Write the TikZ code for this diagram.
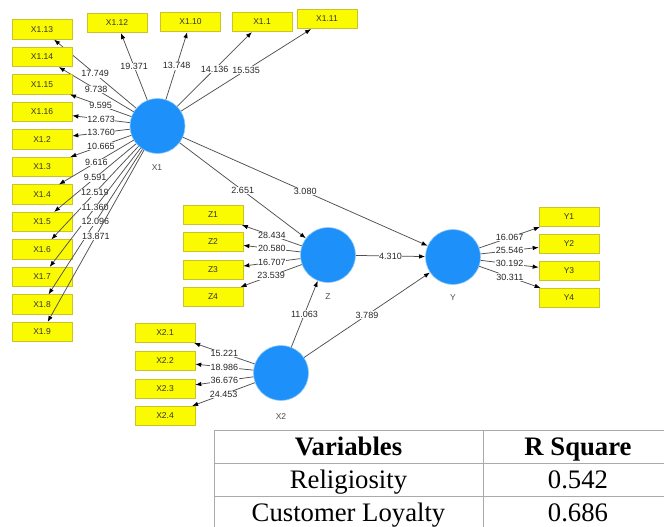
\documentclass[tikz,border=0pt]{standalone}
\usepackage{fontspec}
\setmainfont{Liberation Serif}
\newfontfamily\plssans{Liberation Sans}
\usetikzlibrary{arrows.meta}
\definecolor{lvblue}{RGB}{30,144,250}
\definecolor{lvedge}{RGB}{140,200,245}
\definecolor{indfill}{RGB}{250,250,0}
\definecolor{indedge}{RGB}{205,195,40}
\definecolor{connc}{RGB}{80,80,80}
\definecolor{tabline}{RGB}{170,170,170}
\begin{document}
\begin{tikzpicture}[x=1pt,y=-1pt,
 latent/.style={circle,fill=lvblue,draw=lvedge,line width=0.6pt,minimum size=55pt,inner sep=0pt},
 ind/.style={rectangle,fill=indfill,draw=indedge,line width=0.6pt,minimum width=60pt,minimum height=19.5pt,inner sep=0pt,font=\plssans\fontsize{8.5}{9}\selectfont,text=black!80},
 lvname/.style={font=\plssans\fontsize{8.5}{9}\selectfont,text=black!70},
 conn/.style={draw=connc,line width=0.75pt,-{Latex[length=6pt,width=4.5pt,color=black]}},
 lab/.style={fill=white,inner sep=0.6pt,font=\plssans\fontsize{9}{10}\selectfont,text=black!85},
 tabtxt/.style={font=\fontsize{26.7}{30}\selectfont,inner sep=0pt,anchor=base},
 tabhead/.style={font=\fontsize{26.7}{30}\selectfont\bfseries,inner sep=0pt,anchor=base},
]
\useasboundingbox (0,0) rectangle (664,527);
% latent variables
\node[latent] (X1) at (157.5,126) {};
\node[lvname] (X1n) at (157,168) {X1};
\node[latent] (Z) at (328,255) {};
\node[lvname] (Zn) at (328,297) {Z};
\node[latent] (Y) at (453,257) {};
\node[lvname] (Yn) at (453,298) {Y};
\node[latent] (X2) at (281,373) {};
\node[lvname] (X2n) at (281,417) {X2};
% X1 indicators, left column
\foreach \nm/\yy/\t/\v in {
 xa/29.5/X1.13/17.749, xb/57/X1.14/9.738, xc/84.5/X1.15/9.595, xd/112/X1.16/12.673,
 xe/139.5/X1.2/13.760, xf/167/X1.3/10.665, xg/194.5/X1.4/9.616, xh/222/X1.5/9.591,
 xi/249.5/X1.6/12.519, xj/277/X1.7/11.360, xk/304.5/X1.8/12.096, xl/332/X1.9/13.871}{
 \node[ind] (\nm) at (42,\yy) {\t};
 \draw[conn] (X1) -- node[lab]{\v} (\nm);
}
% X1 indicators, top row
\foreach \nm/\xx/\yy/\t/\v in {
 ta/117/23/X1.12/19.371, tb/190.5/22/X1.10/13.748, tc/262/22/X1.1/14.136, td/327/19/X1.11/15.535}{
 \node[ind] (\nm) at (\xx,\yy) {\t};
 \draw[conn] (X1) -- node[lab]{\v} (\nm);
}
% Z indicators
\foreach \nm/\yy/\t/\v in {za/215/Z1/28.434, zb/242/Z2/20.580, zc/270/Z3/16.707, zd/297/Z4/23.539}{
 \node[ind] (\nm) at (213,\yy) {\t};
 \draw[conn] (Z) -- node[lab]{\v} (\nm);
}
% Y indicators
\foreach \nm/\yy/\t/\v in {ya/217/Y1/16.067, yb/244/Y2/25.546, yc/271/Y3/30.192, yd/298/Y4/30.311}{
 \node[ind] (\nm) at (569,\yy) {\t};
 \draw[conn] (Y) -- node[lab]{\v} (\nm);
}
% X2 indicators
\foreach \nm/\yy/\t/\v in {wa/333/X2.1/15.221, wb/361/X2.2/18.986, wc/389/X2.3/36.676, wd/416/X2.4/24.453}{
 \node[ind] (\nm) at (165,\yy) {\t};
 \draw[conn] (X2) -- node[lab]{\v} (\nm);
}
% structural paths
\draw[conn] (X1) -- node[lab]{2.651} (Z);
\draw[conn] (X1) -- node[lab]{3.080} (Y);
\draw[conn] (Z) -- node[lab]{4.310} (Y);
\draw[conn] (X2) -- node[lab]{11.063} (Z);
\draw[conn] (X2) -- node[lab]{3.789} (Y);
% table
\draw[tabline,line width=0.8pt] (214,527) -- (214,430) -- (664,430);
\draw[tabline,line width=0.8pt] (214,463) -- (664,463);
\draw[tabline,line width=0.8pt] (214,496) -- (664,496);
\draw[tabline,line width=0.8pt] (483,430) -- (483,527);
\node[tabhead] (th1) at (348.5,455.3) {Variables};
\node[tabhead] (th2) at (578,455.3) {R Square};
\node[tabtxt] (tr1) at (348.5,488.3) {Religiosity};
\node[tabtxt] (tv1) at (578,488.3) {0.542};
\node[tabtxt] (tr2) at (348.5,521.3) {Customer Loyalty};
\node[tabtxt] (tv2) at (578,521.3) {0.686};
\end{tikzpicture}
\end{document}
